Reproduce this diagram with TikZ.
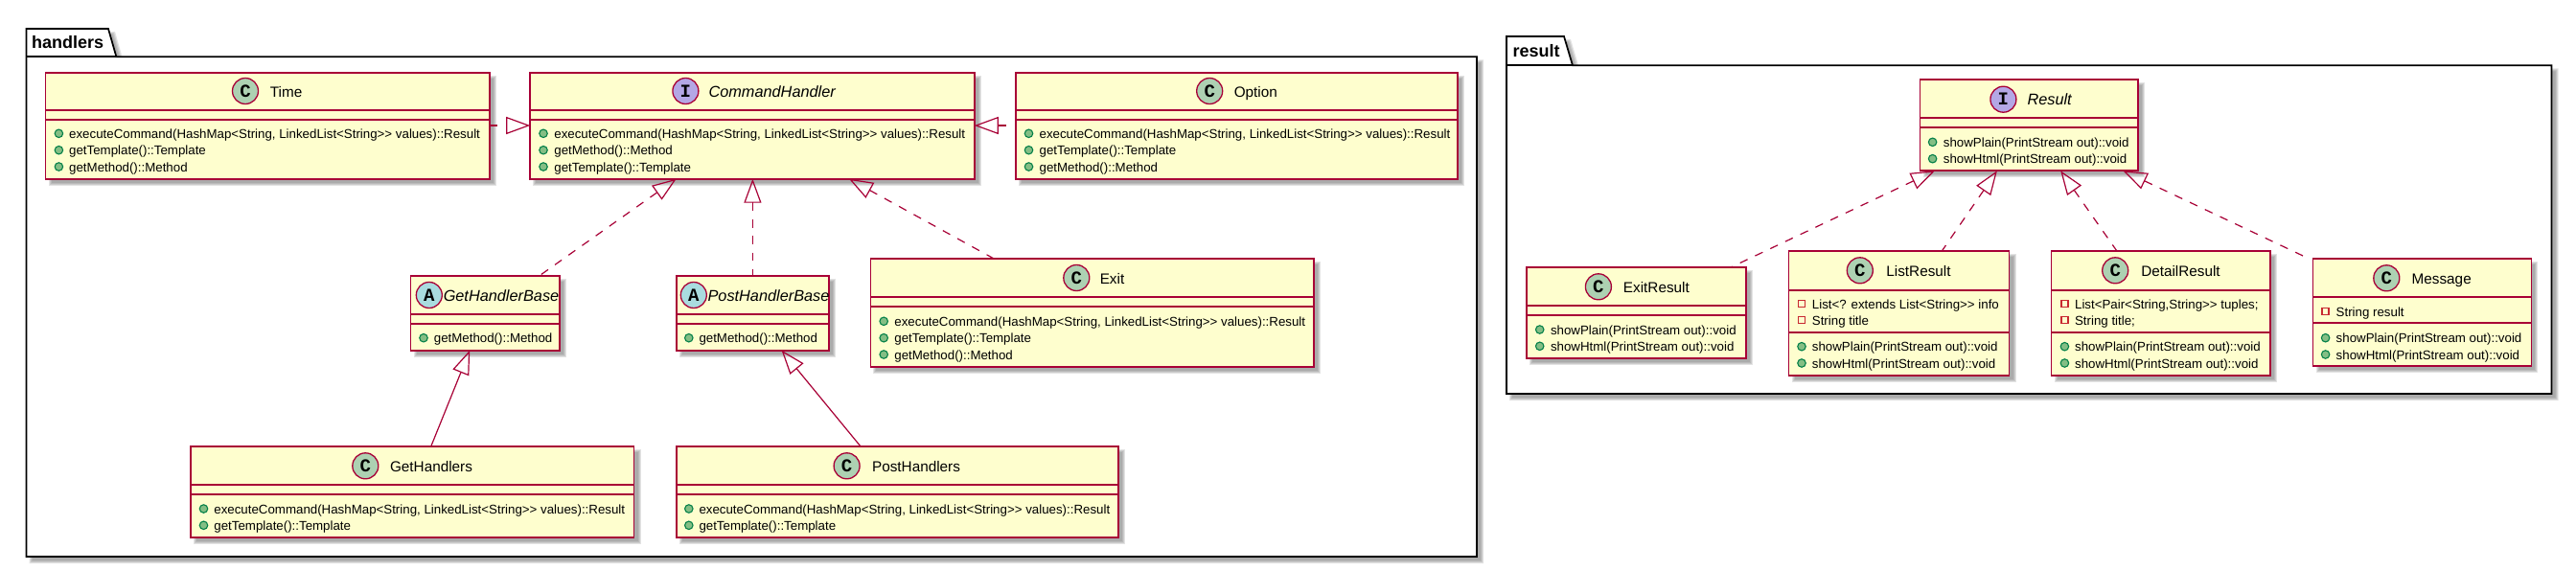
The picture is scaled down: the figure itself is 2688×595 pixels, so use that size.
\documentclass[tikz,border=0pt]{standalone}
\usepackage{fontspec}
\newfontfamily\umlfont{Liberation Sans}
\newfontfamily\letterfont{Liberation Mono}
\usetikzlibrary{arrows.meta,calc}
\definecolor{umlline}{HTML}{A80036}
\definecolor{umlfill}{HTML}{FEFECE}
\definecolor{circC}{HTML}{ADD1B2}
\definecolor{circI}{HTML}{B4A7E5}
\definecolor{circA}{HTML}{A9DCDF}
\definecolor{pubfill}{HTML}{84BE84}
\definecolor{publine}{HTML}{038048}
\definecolor{privline}{HTML}{C82930}
\newcommand{\memfont}{\umlfont\fontsize{13.3}{17}\selectfont}
\newcommand{\softbox}[4]{%
  \foreach \d in {2,1,0,-1}{%
    \fill[shadowlayer] ({#1+5-\d},{#2+5-\d}) rectangle ({#3+5+\d},{#4+5+\d});
  }}
% name x1 y1 x2 y2 sep1 sep2
\newcommand{\classbox}[7]{%
  \softbox{#2}{#3}{#4}{#5}
  \node[classrect,minimum width={(#4-#2)*1pt},minimum height={(#5-#3)*1pt}] (#1) at (#2,#3) {};
  \draw[classsep] ($(#1.north west)+(0,{#6-#3})$) -- ($(#1.north east)+(0,{#6-#3})$);
  \draw[classsep] ($(#1.north west)+(0,{#7-#3})$) -- ($(#1.north east)+(0,{#7-#3})$);
}
% name cx cy letter fill tx title-font title
\newcommand{\classhead}[8]{%
  \node[headcircle,fill=#5] (#1-c) at (#2,#3) {};
  \node[letterstyle] (#1-l) at (#2,{#3+6}) {#4};
  \node[titlestyle] (#1-t) at (#6,{#3+6}) {#7#8};
}
\newcommand{\pubm}[5]{%
  \node[pubdot] (#1-d) at (#2,#4) {};
  \node[memberstyle] (#1) at (#3,{#4+5}) {#5};
}
\newcommand{\privm}[5]{%
  \node[privsq] (#1-d) at (#2,#4) {};
  \node[memberstyle] (#1) at (#3,{#4+5}) {#5};
}
% L T tabR tabR2 B1 R B
\newcommand{\package}[7]{%
  \foreach \d in {2,1,0,-1}{%
    \pgfmathsetmacro{\a}{5-\d}\pgfmathsetmacro{\b}{5+\d}
    \fill[shadowlayer] ({#1+\a},{#2+\a}) -- ({#3+\b},{#2+\a}) -- ({#4+\b},{#5+\a}) -- ({#6+\b},{#5+\a}) -- ({#6+\b},{#7+\b}) -- ({#1+\a},{#7+\b}) -- cycle;
  }
  \filldraw[packline] (#1,#2) -- (#3,#2) -- (#4,#5) -- (#6,#5) -- (#6,#7) -- (#1,#7) -- cycle;
  \draw[packline] (#1,#5) -- (#4,#5);
}
\tikzset{
  shadowlayer/.style={fill=black!55,opacity=.2},
  classrect/.style={draw=umlline,fill=umlfill,line width=1.7pt,inner sep=0pt,outer sep=0pt,anchor=north west},
  classsep/.style={draw=umlline,line width=1.7pt},
  headcircle/.style={circle,draw=umlline,line width=1.3pt,minimum size=27pt,inner sep=0pt},
  letterstyle/.style={anchor=base,inner sep=0pt,font=\letterfont\bfseries\fontsize{19}{20}\selectfont,text=black},
  titlestyle/.style={anchor=base,inner sep=0pt,font=\umlfont\fontsize{15.3}{18}\selectfont,text=black},
  memberstyle/.style={anchor=base west,inner sep=0pt,font=\memfont,text=black},
  pubdot/.style={circle,draw=publine,fill=pubfill,line width=1.1pt,minimum size=8.5pt,inner sep=0pt},
  privsq/.style={rectangle,draw=privline,line width=1.3pt,minimum size=7pt,inner sep=0pt},
  packline/.style={draw=black,fill=white,line width=1.7pt},
  packlabel/.style={anchor=base west,inner sep=0pt,font=\umlfont\bfseries\fontsize{18}{20}\selectfont,text=black},
  impl/.style={draw=umlline,line width=1.2pt,dash pattern=on 8.7pt off 8.7pt},
  ext/.style={draw=umlline,line width=1.2pt},
  hollow/.style={arrows={-Triangle[open,length=25pt,width=18pt]}},
  hollowback/.style={arrows={Triangle[open,length=25pt,width=18pt]-}},
}
\newcommand{\ital}{\itshape\fontsize{16.3}{18}\selectfont}
\begin{document}
\begin{tikzpicture}[x=1pt,y=-1pt]
\useasboundingbox (0,0) rectangle (2688,595);
\fill[white] (0,0) rectangle (2688,595);
% packages
\package{27.5}{30}{113}{121.4}{59.3}{1541}{581}
\node[packlabel] (handlersname) at (32.9,50) {handlers};
\package{1572}{38}{1632}{1641}{68.3}{2662.5}{411}
\node[packlabel] (resultname) at (1578.4,59.3) {result};
% handlers classes
\classbox{Time}{47.5}{75.7}{510.7}{186.7}{115.3}{125.3}
\classhead{Time}{256}{95}{C}{circC}{298.6}{}{Time}
\pubm{Time1}{61.4}{72}{139.3}{executeCommand(HashMap<String, LinkedList<String>> values)::Result}
\pubm{Time2}{61.4}{72}{156.7}{getTemplate()::Template}
\pubm{Time3}{61.4}{72}{174}{getMethod()::Method}

\classbox{CH}{553.2}{75.7}{1016.8}{186.7}{115.3}{125.3}
\classhead{CH}{715.4}{95}{I}{circI}{805.7}{\ital}{CommandHandler}
\pubm{CH1}{567}{578.2}{139.3}{executeCommand(HashMap<String, LinkedList<String>> values)::Result}
\pubm{CH2}{567}{578.2}{156.7}{getMethod()::Method}
\pubm{CH3}{567}{578.2}{174}{getTemplate()::Template}

\classbox{Option}{1060.2}{75.7}{1521}{186.7}{115.3}{125.3}
\classhead{Option}{1262.2}{95}{C}{circC}{1310.3}{}{Option}
\pubm{Option1}{1073.5}{1084.4}{139.3}{executeCommand(HashMap<String, LinkedList<String>> values)::Result}
\pubm{Option2}{1073.5}{1084.4}{156.7}{getTemplate()::Template}
\pubm{Option3}{1073.5}{1084.4}{174}{getMethod()::Method}

\classbox{GHB}{428.6}{288.3}{584}{365.7}{328.3}{338.3}
\classhead{GHB}{447.8}{308}{A}{circA}{523}{\ital}{GetHandlerBase}
\pubm{GHB1}{442}{452.7}{352.7}{getMethod()::Method}

\classbox{PHB}{705.9}{288.3}{865.2}{365.7}{328.3}{338.3}
\classhead{PHB}{723.8}{308}{A}{circA}{802}{\ital}{PostHandlerBase}
\pubm{PHB1}{718.8}{729.3}{352.7}{getMethod()::Method}

\classbox{Exit}{908.4}{270.3}{1371.2}{382.7}{310.3}{320.3}
\classhead{Exit}{1123.3}{290}{C}{circC}{1160.5}{}{Exit}
\pubm{Exit1}{922.2}{933.2}{335.3}{executeCommand(HashMap<String, LinkedList<String>> values)::Result}
\pubm{Exit2}{922.2}{933.2}{352.7}{getTemplate()::Template}
\pubm{Exit3}{922.2}{933.2}{370}{getMethod()::Method}

\classbox{GH}{198.7}{466.3}{661.6}{560.7}{506.3}{516.3}
\classhead{GH}{381.3}{486.3}{C}{circC}{450}{}{GetHandlers}
\pubm{GH1}{212.5}{223.2}{531}{executeCommand(HashMap<String, LinkedList<String>> values)::Result}
\pubm{GH2}{212.5}{223.2}{548.3}{getTemplate()::Template}

\classbox{PH}{705.9}{466.3}{1167.3}{560.7}{506.3}{516.3}
\classhead{PH}{883.6}{486.3}{C}{circC}{956}{}{PostHandlers}
\pubm{PH1}{718.8}{729.3}{531}{executeCommand(HashMap<String, LinkedList<String>> values)::Result}
\pubm{PH2}{718.8}{729.3}{548.3}{getTemplate()::Template}

% result classes
\classbox{Res}{2003.5}{83.3}{2231.2}{178.3}{123.3}{133.3}
\classhead{Res}{2090.4}{103.7}{I}{circI}{2138.6}{\ital}{Result}
\pubm{Res1}{2016.6}{2027.7}{148.3}{showPlain(PrintStream out)::void}
\pubm{Res2}{2016.6}{2027.7}{165.7}{showHtml(PrintStream out)::void}

\classbox{ER}{1593.3}{279.3}{1821.8}{373.7}{319.3}{329.3}
\classhead{ER}{1667.9}{299.3}{C}{circC}{1728.4}{}{ExitResult}
\pubm{ER1}{1606.7}{1617.8}{344}{showPlain(PrintStream out)::void}
\pubm{ER2}{1606.7}{1617.8}{361.3}{showHtml(PrintStream out)::void}

\classbox{LR}{1866.5}{262.3}{2096.5}{391.7}{302.7}{347.3}
\classhead{LR}{1940.8}{282.3}{C}{circC}{2002}{}{ListResult}
\privm{LR1}{1880}{1890.7}{317}{List<? extends List<String>> info}
\privm{LR2}{1880}{1890.7}{334.3}{String title}
\pubm{LR3}{1880}{1890.7}{361.7}{showPlain(PrintStream out)::void}
\pubm{LR4}{1880}{1890.7}{379}{showHtml(PrintStream out)::void}

\classbox{DR}{2140.5}{262.3}{2369.2}{391.7}{302.7}{347.3}
\classhead{DR}{2207.2}{282.3}{C}{circC}{2275.5}{}{DetailResult}
\privm{DR1}{2154.4}{2164.9}{317}{List<Pair<String,String>> tuples;}
\privm{DR2}{2154.4}{2164.9}{334.3}{String title;}
\pubm{DR3}{2154.4}{2164.9}{361.7}{showPlain(PrintStream out)::void}
\pubm{DR4}{2154.4}{2164.9}{379}{showHtml(PrintStream out)::void}

\classbox{Msg}{2413.5}{270.3}{2641.4}{382.3}{310.3}{337.3}
\classhead{Msg}{2490.3}{290.3}{C}{circC}{2547.7}{}{Message}
\privm{Msg1}{2426.6}{2437.5}{325.3}{String result}
\pubm{Msg2}{2426.6}{2437.5}{352.7}{showPlain(PrintStream out)::void}
\pubm{Msg3}{2426.6}{2437.5}{370}{showHtml(PrintStream out)::void}

% connectors: handlers
\draw[impl,hollow] ($(Time.north east)+(0,55.3)$) -- ($(CH.north west)+(0,55.3)$);
\draw[impl,hollowback] ($(CH.north east)+(0,55.3)$) -- ($(Option.north west)+(0,55.3)$);
\draw[impl,hollowback] ($(CH.south west)+(152.5,0)$) -- ($(GHB.north west)+(133.6,0)$);
\draw[impl,hollowback] ($(CH.south west)+(232.2,0)$) -- ($(PHB.north west)+(79.5,0)$);
\draw[impl,hollowback] ($(CH.south west)+(332.8,0)$) -- ($(Exit.north west)+(129.3,0)$);
\draw[ext,hollow] ($(GH.north west)+(250.9,0)$) -- ($(GHB.south west)+(61.6,0)$);
\draw[ext,hollow] ($(PH.north west)+(192.4,0)$) -- ($(PHB.south west)+(109.7,0)$);
% connectors: result
\draw[impl,hollowback] ($(Res.south west)+(15.4,0)$) -- ($(ER.north east)+(-16.3,0)$);
\draw[impl,hollowback] ($(Res.south west)+(80.4,0)$) -- ($(LR.north west)+(159.6,0)$);
\draw[impl,hollowback] ($(Res.south west)+(146.7,0)$) -- ($(DR.north west)+(68.6,0)$);
\draw[impl,hollowback] ($(Res.south west)+(212,0)$) -- ($(Msg.north west)+(-9,-2.6)$);
\end{tikzpicture}
\end{document}
